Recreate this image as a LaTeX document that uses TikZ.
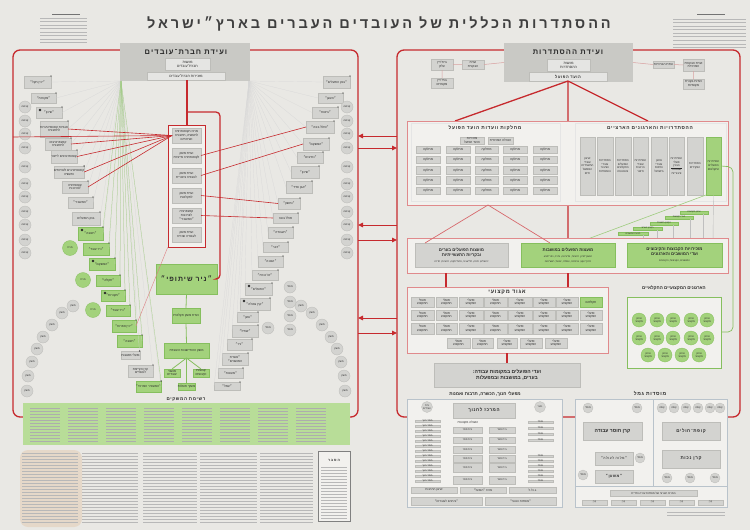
\documentclass[tikz,border=0pt]{standalone}
\usepackage{fontspec}
\setmainfont[Script=Hebrew]{Liberation Sans}
\newfontfamily\spc[Script=Hebrew,LetterSpace=14]{Liberation Sans}
\newfontfamily\spcT[Script=Hebrew,LetterSpace=20]{Liberation Sans}
\TeXXeTstate=1
\usetikzlibrary{arrows.meta}
\newcommand\heb[1]{\beginR #1\endR}
\definecolor{paper}{HTML}{E9E8E4}
\definecolor{panel}{HTML}{F2F1EE}
\definecolor{redc}{HTML}{C62A2E}
\definecolor{pinkl}{HTML}{D9A0A0}
\definecolor{boxg}{HTML}{D3D3D0}
\definecolor{boxl}{HTML}{BDBDB9}
\definecolor{hdrg}{HTML}{C9C9C5}
\definecolor{grn}{HTML}{A3D27C}
\definecolor{grnl}{HTML}{86BF5E}
\definecolor{grnt}{HTML}{B8DD98}
\definecolor{ink}{HTML}{2A2A2A}
\definecolor{blueg}{HTML}{B9C3CB}
\newcommand\bx[7]{%
  \pgfmathsetmacro\bxw{#4-#2}\pgfmathsetmacro\bxh{#5-#3}%
  \node[#6,minimum width=\bxw pt,minimum height=\bxh pt] (#1) at ({(#2+#4)/2},{(#3+#5)/2}) {#7};}
\tikzset{
 gb/.style={draw=boxl,fill=boxg,line width=0.3pt,inner sep=0pt,outer sep=0pt,align=center,text=ink,font=\fontsize{3.2}{3.7}\selectfont},
 gg/.style={gb,fill=grn,draw=grnl},
 hb/.style={fill=hdrg,draw=none,inner sep=0pt,outer sep=0pt},
 sb/.style={gb,fill=boxg!60!white,font=\fontsize{3.6}{4}\selectfont},
 rl/.style={draw=redc,line width=1.3pt},
 rt/.style={draw=redc,line width=0.6pt},
 pl/.style={draw=pinkl,line width=0.5pt},
 fanl/.style={draw=black!16,line width=0.2pt},
 fang/.style={draw=grnl!80,line width=0.25pt},
 gc/.style={circle,draw=boxl,fill=boxg,line width=0.3pt,inner sep=0pt,minimum size=12pt,align=center,font=\fontsize{2.6}{3}\selectfont,text=ink},
 gcg/.style={gc,fill=grn,draw=grnl},
 pnl/.style={draw=blueg,fill=panel,line width=0.6pt,inner sep=0pt,outer sep=0pt},
 rframe/.style={draw=redc!55!white,line width=0.7pt,fill=panel,inner sep=0pt,outer sep=0pt},
 ttl/.style={font=\fontsize{5}{6}\selectfont\bfseries,text=ink,inner sep=0pt},
 txl/.style={draw=black!28,line width=0.5pt},
 arrl/.style={draw=redc,line width=1pt,-{Triangle[length=5pt,width=4.5pt]}},
}
\begin{document}
\begin{tikzpicture}[x=1pt,y=-1pt]
\fill[paper] (0,0) rectangle (750,530);
\useasboundingbox (0,0) rectangle (750,530);

% ---------- title and corner texts
\node[font=\spcT\fontsize{14.5}{15}\selectfont\bfseries,text=ink!90] (title) at (379,24) {\heb{ההסתדרות הכללית של העובדים העברים בארץ״ישראל}};
\foreach \yy in {18,21.5,25,28.5,32,35.5,39,42.5} \draw[txl] (40,\yy) -- (87,\yy);
\draw[draw=black!55,line width=0.7pt] (52,14) -- (80,14);
\foreach \yy in {19,22.5,26,29.5,33,36.5,40,44,47.5} \draw[txl] (673,\yy) -- (746,\yy);
\draw[draw=black!55,line width=0.7pt] (697,14.5) -- (725,14.5);

% ---------- frames
\node[draw=redc,line width=1.3pt,rounded corners=7pt,minimum width=345pt,minimum height=367pt,inner sep=0pt] (lframe) at (185.5,233.5) {};
\node[draw=redc,line width=1.3pt,rounded corners=7pt,minimum width=343pt,minimum height=367pt,inner sep=0pt] (rframe) at (568.5,233.5) {};
\foreach \ya/\yb [count=\i] in {136/148,225/240,318/333} {
  \coordinate (al\i) at (358,\ya); \coordinate (ar\i) at (397,\ya);
  \coordinate (bl\i) at (358,\yb); \coordinate (br\i) at (397,\yb);
  \draw[arrl] (ar\i) -- (al\i);
  \draw[arrl] (bl\i) -- (br\i);}

% ================= LEFT: Hevrat Ovdim =================
\bx{lhdr}{120}{43}{250}{81}{hb}{}
\node[ttl,font=\spc\fontsize{7.5}{8}\selectfont\bfseries] (lhdrt) at (186,52) {\heb{ועידת חברת־עובדים}};
\bx{lmoetza}{165}{58}{210}{70}{sb}{\heb{מועצת}\\\heb{חברת־עובדים}}
\bx{lmazk}{147}{72}{225}{80}{sb}{\heb{מזכירות חברת־עובדים}}
\coordinate (fanL) at (121,81);
\coordinate (fanR) at (249,81);

% left fan boxes
\foreach \n/\xa/\ya/\xb/\yb/\st/\t in {
 1/24/76/51/88/gb/{\heb{״יכין חקל״}},
 2/31/93/56/103/gb/{\heb{״מקורות״}},
 3/36/107/62/118/gb/{\heb{״שיכון״}},
 4/40/121/68/137/gb/{\heb{אגודות קואופרטיביות}\\\heb{לתחבורה}},
 5/45/138/71/150/gb/{\heb{קואופרטיבים}\\\heb{לתחבורה}},
 6/51/150/77/163/gb/{\heb{קואופרטיבים לייצור}},
 7/55/166/83/178/gb/{\heb{קואופרטיבים לשירותים}\\\heb{ותעשיה}},
 8/62/181/88/193/gb/{\heb{קואופרציה}\\\heb{לצרכנות}},
 9/68/197/93/208/gb/{\heb{״המשביר״}},
 10/72/212/100/225/gb/{\heb{בנק הפועלים}},
 11/78/227/103/240/gg/{\heb{״תנובה״}},
 12/83/243/109/255/gg/{\heb{״ניר עובד״}},
 13/89/258/115/270/gg/{\heb{״המשקם״}},
 14/96/275/120/286/gg/{\heb{״חקלאי״}},
 15/101/290/125/301/gg/{\heb{״מקורות״}},
 16/106/305/130/316/gg/{\heb{״ניר עובד״}},
 17/112/320/136/332/gg/{\heb{״יכין אפרוח״}},
 18/117/335/142/347/gg/{\heb{״תנובה״}},
 19/123/351/138/359/gb/{\heb{פועלי מושבות}},
 20/128/365/153/377/gb/{\heb{קרן הקיימת}\\\heb{לעובדים}},
 21/137/381/160/392/gg/{\heb{״המשביר המרכזי״}}} {
  \bx{lf\n}{\xa}{\ya}{\xb}{\yb}{\st}{\t}
}
% right fan boxes
\foreach \n/\xa/\ya/\xb/\yb/\t in {
 1/323/76/350/88/{\heb{״בנק הפועלים״}},
 2/318/93/343/103/{\heb{״העוגן״}},
 3/312/107/338/118/{\heb{״ביטוח״}},
 4/306/121/334/133/{\heb{״סולל בונה״}},
 5/303/138/329/150/{\heb{״המשקם״}},
 6/297/152/323/163/{\heb{״נתיבים״}},
 7/291/166/319/178/{\heb{״שיכון״}},
 8/286/181/312/193/{\heb{״אבן וסיד״}},
 9/278/198/300/209/{\heb{״נחשון״}},
 10/273/213/298/223/{\heb{סולל בונה}},
 11/268/227/293/238/{\heb{״העבודה״}},
 12/263/242/288/252/{\heb{״דבר״}},
 13/258/256/283/267/{\heb{״הבונה״}},
 14/252/270/278/280/{\heb{״ים־כנרת״}},
 15/245/283/272/295/{\heb{״הפועלים״}},
 16/240/298/270/310/{\heb{״קרן גאולה״}},
 17/237/312/258/322/{\heb{״גאון״}},
 18/232/325/258/337/{\heb{״שתיל״}},
 19/227/339/252/350/{\heb{״ניר״}},
 20/222/353/248/365/{\heb{״אגודת}\\\heb{המושבים״}},
 21/218/368/243/378/{\heb{״מעונות״}},
 22/214/382/240/390/{\heb{״עמל״}}} {
  \bx{rf\n}{\xa}{\ya}{\xb}{\yb}{gb}{\t}
}
% fan lines
\foreach \n in {1,...,21} \draw[fanl] (fanL) -- (lf\n.east);
\foreach \n in {11,...,18,21} \draw[fang] (fanL) -- (lf\n.north east);
\foreach \n in {1,...,22} \draw[fanl] (fanR) -- (rf\n.west);
\foreach \n in {1,...,21} \fill[ink] (lf\n.north east) circle (0.7pt);
\foreach \n in {1,...,22} \fill[ink] (rf\n.north east) circle (0.7pt);
\foreach \n in {3,11,13,15} \fill[ink] ([xshift=4pt,yshift=-3pt]lf\n.north west) circle (1.4pt);
\foreach \n in {15,16} \fill[ink] ([xshift=4pt,yshift=-3pt]rf\n.north west) circle (1.4pt);

% circles
\foreach \yy [count=\i] in {107,121,134,148,167,184,197,212,225,240,253}
  \node[gc] (lc\i) at (25,\yy) {\heb{קבוצה}};
\foreach \yy [count=\i] in {107,121,134,148,167,184,197,212,225,240,253}
  \node[gc] (rc\i) at (347,\yy) {\heb{קבוצה}};
\foreach \xx/\yy [count=\i] in {73/306,62/313,52/325,43/337,37/349,32/362,28/376,27/391}
  \node[gc] (la\i) at (\xx,\yy) {\heb{משק}};
\foreach \xx/\yy [count=\i] in {301/306,312/313,322/325,331/337,337/349,341/362,344/376,345/391}
  \node[gc] (ra\i) at (\xx,\yy) {\heb{משק}};
\node[gcg,minimum size=15pt] (lg1) at (70,248) {\heb{מרכז}};
\node[gcg,minimum size=15pt] (lg2) at (83,280) {\heb{מרכז}};
\node[gcg,minimum size=15pt] (lg3) at (93,310) {\heb{מרכז}};
\foreach \yy [count=\i] in {287,302,316,330}
  \node[gc] (rm\i) at (290,\yy) {\heb{מוסד}};
\node[gc] (rm5) at (268,328) {\heb{מוסד}};

% central column
\coordinate (lsplit) at (187,112);
\draw[rl] (lmazk.south -| 187,0) -- (187,125);
\bx{lcol}{168}{125}{205}{247}{draw=redc,line width=0.6pt,fill=panel,inner sep=0pt}{}
\foreach \n/\ya/\yb/\t in {
 1/128/143/{\heb{מרכז הקואופרציה}\\\heb{לתעשיה, תחבורה}\\\heb{ושירותים}},
 2/148/163/{\heb{ועדת משק}\\\heb{לקואופרציה מייצרת}},
 3/168/183/{\heb{ועדת משק}\\\heb{לעבודה ציבורית}},
 4/188/203/{\heb{ועדת משק}\\\heb{לחקלאות}},
 5/208/223/{\heb{קואופרציה}\\\heb{לצרכנות}\\\heb{״המשביר״}},
 6/227/242/{\heb{ועדת משק}\\\heb{לעבודה שכירה}}} {
  \bx{cb\n}{172}{\ya}{201}{\yb}{gb}{\t}
}
\bx{nir}{156}{264}{217}{294}{gg,font=\spc\fontsize{7}{8}\selectfont\bfseries}{\heb{״ניר שיתופי״}}
\draw[rl,rounded corners=4pt] (lsplit) -- (220,112) -- (220,279) -- (nir.east |- 0,279);
\draw[rt] (cb1.west) -- (13,137);
\foreach \n in {4,5,6,7,8} \draw[rt] (cb1.west) -- (lf\n.east);
\draw[rt] (cb2.east) -- (rf4.west);
\draw[rt] (cb3.east) -- (rf5.west);
\draw[rt] (cb4.east) -- (rf9.west);
\draw[rt] (cb5.east) -- (rf10.west);
\draw[draw=redc!60,line width=0.4pt] (lcol.south west) -- (lf17.east);

\bx{n2}{172}{308}{200}{323}{gg}{\heb{ועדת משק חקלאית}}
\bx{n3}{164}{343}{209}{358}{gg}{\heb{משק ההתיישבות העובדת}}
\bx{n4}{164}{369}{180}{377}{gg}{\heb{מושבי}\\\heb{עובדים}}
\bx{n5}{193}{369}{209}{377}{gg}{\heb{קבוצות}\\\heb{וקיבוצים}}
\bx{n6}{178}{383}{195}{390}{gg}{\heb{משקי פועלות}}
\draw[grnl,line width=0.8pt] (nir.south) -- (n2.north) (n2.south) -- (n3.north)
  (n3.south) -- (n4.north) (n3.south) -- (n5.north) (n3.south) -- (n6.north);

% bottom table
\node[font=\spc\fontsize{4.5}{5}\selectfont\bfseries,text=ink] (tbltitle) at (186,400) {\heb{רשימת המשקים}};
\bx{tbl}{23}{403}{350}{445}{fill=grnt,draw=none,inner sep=0pt}{}
\foreach \xa in {30,68,106,144,182,220,258,296}
  \foreach \yy in {408,411,...,442} \draw[draw=black!32,line width=0.45pt] (\xa,\yy) -- (\xa+30,\yy);
\fill[brown!45,opacity=0.45,rounded corners=8pt] (20,450) rectangle (82,527);
\foreach \xa/\xb in {22/78,82/138,143/197,200/257,260/313}
  \foreach \yy in {453,456,...,523} \draw[txl,line width=0.45pt] (\xa,\yy) -- (\xb,\yy);
\bx{expl}{318}{451}{350}{521}{draw=black!50,line width=0.5pt,fill=panel,inner sep=0pt}{}
\node[font=\fontsize{3.5}{4}\selectfont\bfseries,text=ink,align=center] (explt) at (334,460) {\heb{ה ס ב ר}};
\foreach \yy in {467,470,...,518} \draw[txl,line width=0.45pt] (321,\yy) -- (347,\yy);

% ================= RIGHT: Histadrut =================
\bx{rhdr}{504}{43}{633}{82}{hb}{}
\node[ttl,font=\spc\fontsize{7.5}{8}\selectfont\bfseries] (rhdrt) at (568,52) {\heb{ועידת ההסתדרות}};
\bx{rmoetza}{547}{59}{590}{71}{sb}{\heb{מועצת}\\\heb{ההסתדרות}}
\bx{rvaad}{529}{72}{607}{81}{sb,font=\spc\fontsize{4}{5}\selectfont\bfseries}{\heb{הועד הפועל}}
\bx{hl1}{462}{60}{484}{69}{gb}{\heb{ועדת}\\\heb{הבקורת}}
\bx{hl2}{431}{59}{453}{70}{gb}{\heb{בית־דין}\\\heb{עליון}}
\bx{hl3}{431}{78}{453}{88}{gb}{\heb{בתי־דין}\\\heb{מקומיים}}
\bx{hr1}{653}{61}{674}{68}{gb}{\heb{ועדת הבחירות}}
\bx{hr2}{683}{59}{704}{71}{gb}{\heb{ועדת הבקורת}\\\heb{המרכזית}}
\bx{hr3}{683}{79}{704}{89}{gb}{\heb{ועדות בקורת}\\\heb{מקומיות}}
\draw[pl] (rhdr.west) -- (hl1.east) (hl1.west) -- (hl2.east) (hl2.south) -- (hl3.north)
  (rhdr.east) -- (hr1.west) (hr1.east) -- (hr2.west) (hr2.south) -- (hr3.north);

\coordinate (m1) at (455,121); \coordinate (m2) at (648,121); \coordinate (rowtop) at (568,238);
\draw[rl] (rvaad.south) -- (m1) (rvaad.south) -- (m2) (rvaad.south) -- (rowtop);
\bx{mframe}{407}{121}{728}{205}{rframe}{}
\bx{mleft}{411}{123}{560}{201}{pnl,draw=black!10}{}
\bx{mright}{575}{123}{726}{201}{pnl,draw=black!10}{}
\node[font=\spc\fontsize{4.8}{5}\selectfont\bfseries,text=ink] (mlt) at (485,128) {\heb{מחלקות וועדות הועד הפועל}};
\node[font=\spc\fontsize{4.8}{5}\selectfont\bfseries,text=ink] (mrt) at (650,128) {\heb{ההסתדרויות והארגונים הארציים}};
\bx{mt1}{460}{137}{484}{144}{gb}{\heb{מזכירות}\\\heb{הועד הפועל}}
\bx{mt2}{488}{137}{513}{144}{gb}{\heb{הנהלה המרכזית}}
\foreach \c/\xa/\xb in {1/533/557,2/503/527,3/475/498,4/446/470,5/416/440}
 \foreach \r/\ya/\yb in {1/146/153,2/156/163,3/166/174,4/176/184,5/187/194}
  \bx{mg\c\r}{\xa}{\ya}{\xb}{\yb}{gb}{\heb{מחלקה}};
\foreach \i/\xa/\xb/\t in {
 1/580/595/{\heb{ארגון}\\\heb{עובדי}\\\heb{המשרדים}\\\heb{הממשל}\\\heb{תיים}},
 2/597/613/{\heb{הסתדרות}\\\heb{עובדי}\\\heb{הציבור}\\\heb{והמוסדות}},
 3/615/631/{\heb{הסתדרות}\\\heb{הפועלים}\\\heb{החקלאים}\\\heb{והנוטעים}},
 4/633/648/{\heb{הסתדרות}\\\heb{עובדי}\\\heb{הרכבת}\\\heb{ודואר}},
 5/651/667/{\heb{ארגון}\\\heb{עובדי}\\\heb{הדפוס}\\\heb{בישראל}},
 6/669/684/{\heb{הסתדרות}\\\heb{פועלי}\\\heb{הבנין}\\\heb{ועבודות}\\\heb{ציבוריות}},
 7/687/703/{\heb{הסתדרות}\\\heb{הפקידים}}} {
  \bx{tb\i}{\xa}{137}{\xb}{195}{gb,font=\fontsize{2.9}{3.6}\selectfont}{\t}
}
\bx{tb8}{706}{137}{721}{195}{gg,font=\fontsize{2.9}{3.6}\selectfont}{\heb{הסתדרות}\\\heb{הפועלים}\\\heb{החקלאים}}
\draw[draw=ink,line width=1pt] (671,168) -- (682,168);

% green tree above row
\bx{gt1}{680}{211}{708}{214}{gg,font=\fontsize{2.2}{2.5}\selectfont}{\heb{ארגון הקבוצות}}
\bx{gt2}{665}{216}{693}{219}{gg,font=\fontsize{2.2}{2.5}\selectfont}{\heb{חבר הקבוצות}}
\bx{gt3}{650}{222}{678}{225}{gg,font=\fontsize{2.2}{2.5}\selectfont}{\heb{הקבוץ המאוחד}}
\bx{gt4}{633}{227}{662}{230}{gg,font=\fontsize{2.2}{2.5}\selectfont}{\heb{הקבוץ הארצי}}
\bx{gt5}{618}{232}{648}{235}{gg,font=\fontsize{2.2}{2.5}\selectfont}{\heb{תנועת המושבים}}
\foreach \xx/\yy in {643/235,657/230,673/225,690/219,703/214} \draw[draw=black!25,line width=0.4pt] (\xx,\yy) -- (\xx,243);
\draw[draw=black!25,line width=0.4pt] (tb8.south) -- (713,243);
\draw[draw=grnl!80,line width=0.6pt] (tb8.south west) -- (577,243);
\draw[draw=grnl,line width=0.7pt,rounded corners=5pt] (tb8.east) -- (733,167) -- (733,332) -- (721,332);

% row of workers' councils
\bx{rowf}{407}{238}{728}{273}{rframe}{}
\coordinate (apex) at (488,205);
\bx{wc1}{415}{243}{508}{267}{gb,font=\fontsize{4.3}{5}\selectfont\bfseries}{\heb{מועצות הפועלים בערים}\\\heb{ובקריות התעשייתיות}\\[1pt]{\fontsize{2.5}{3}\selectfont\mdseries\heb{ירושלים, חיפה, תל־אביב, פתח־תקוה, רחובות, חדרה}}}
\bx{wc2}{521}{243}{615}{267}{gg,font=\fontsize{4.3}{5}\selectfont\bfseries}{\heb{מועצות הפועלים במושבות}\\[1pt]{\fontsize{2.5}{3}\selectfont\mdseries\heb{ראשון־לציון, רחובות, נס־ציונה, גדרה, כפר־סבא}}\\{\fontsize{2.5}{3}\selectfont\mdseries\heb{זכרון־יעקב, בנימינה, עפולה, יבנאל, ראש־פנה}}}
\bx{wc3}{627}{243}{722}{267}{gg,font=\fontsize{4.3}{5}\selectfont\bfseries}{\heb{מזכירויות הקבוצות והקיבוצים}\\\heb{ועדי המושבים והארגונים}\\[1pt]{\fontsize{2.5}{3}\selectfont\mdseries\heb{המושבים, הקבוצות, הקיבוצים}}}
\draw[draw=redc!70!white,line width=0.7pt] (apex) -- (425,243) (apex) -- (550,243);
\coordinate (r1a) at (446,273); \coordinate (r1b) at (446,287);
\coordinate (r2a) at (568,273); \coordinate (r2b) at (568,287);
\draw[rl] (r1a) -- (r1b) (r2a) -- (r2b);

% trade unions
\bx{agud}{407}{287}{608}{353}{rframe}{}
\node[font=\spc\fontsize{5.5}{6}\selectfont\bfseries,text=ink] (agudt) at (507,292) {\heb{אגוד מקצועי}};
\foreach \c/\xa/\xb in {1/580/602,2/556/578,3/533/555,4/508/532,5/484/507,6/459/483,7/436/457,8/411/434}
 \foreach \r/\ya/\yb in {1/297/307,2/310/320,3/323/334}
  \bx{ag\c\r}{\xa}{\ya}{\xb}{\yb}{gb}{\heb{פועלי}\\\heb{המקצוע}};
\bx{ag11g}{580}{297}{602}{307}{gg}{\heb{חקלאים}}
\foreach \c/\xa/\xb in {1/545/567,2/520/542,3/497/517,4/472/493,5/447/470}
  \bx{ag\c4}{\xa}{338}{\xb}{348}{gb}{\heb{פועלי}\\\heb{המקצוע}};
\coordinate (agb) at (507,353); \coordinate (vtop) at (507,363);
\draw[rl] (agb) -- (vtop);
\bx{vaadim}{434}{363}{580}{387}{gb,font=\fontsize{5}{6}\selectfont\bfseries}{\heb{ועדי הפועלים במקומות עבודה:}\\\heb{בערים, במושבות ובמפעלות}}

% agricultural unions
\node[font=\fontsize{4.5}{5}\selectfont\bfseries,text=ink] (agrt) at (674,288) {\heb{הארגונים המקצועיים החקלאיים}};
\bx{agrf}{627}{297}{721}{368}{draw=grnl,line width=0.8pt,fill=panel,inner sep=0pt}{}
\foreach \xx [count=\i] in {639,657,673,691,707} {
  \node[gcg,minimum size=14pt] (ca\i) at (\xx,320) {\heb{ארגון}\\\heb{מקצועי}};
  \node[gcg,minimum size=14pt] (cb\i) at (\xx,338) {\heb{ארגון}\\\heb{מקצועי}};}
\foreach \xx [count=\i] in {648,665,682,699}
  \node[gcg,minimum size=14pt] (cc\i) at (\xx,355) {\heb{ארגון}\\\heb{מקצועי}};

% bottom panels
\node[font=\fontsize{4.5}{5}\selectfont\bfseries,text=ink] (edt) at (485,394) {\heb{מפעלי חנוך, הכשרה, תרבות ואמנות}};
\node[font=\spc\fontsize{5}{5}\selectfont\bfseries,text=ink] (gmt) at (650,394) {\heb{מוסדות גמל}};
\bx{edu}{407}{399}{562}{507}{pnl}{}
\bx{gml}{575}{399}{727}{507}{pnl}{}
% education panel
\node[gc,minimum size=11pt] (ec1) at (427,407) {\heb{בית}\\\heb{עובדים}};
\node[gc,minimum size=11pt] (ec2) at (540,407) {\heb{נוער}};
\foreach \yy [count=\i] in {421,426,431,436,441,446,451,456,461,466,471,476,481}
  \bx{el\i}{415}{\yy-1.8}{440}{\yy+1.8}{gb,font=\fontsize{2.4}{2.6}\selectfont}{\heb{מוסד חנוך}};
\bx{emerkaz}{453}{403}{515}{418}{gb,font=\spc\fontsize{4.5}{5}\selectfont\bfseries}{\heb{המרכז לחנוך}}
\node[font=\fontsize{3}{3.5}\selectfont,text=ink] (eprof) at (468,423) {\heb{השכלה מקצועית}};
\foreach \r/\ya/\yb in {1/427/433,2/437/443,3/446/453,4/455/462,5/463/472} {
  \bx{ea\r}{489}{\ya}{515}{\yb}{gb,font=\fontsize{2.6}{3}\selectfont}{\heb{בית ספר}}
  \bx{eb\r}{453}{\ya}{482}{\yb}{gb,font=\fontsize{2.6}{3}\selectfont}{\heb{בית ספר}}}
\bx{ec3}{489}{476}{515}{484}{gb,font=\fontsize{2.6}{3}\selectfont}{\heb{בית ספר}}
\bx{ec4}{453}{476}{482}{484}{gb,font=\fontsize{2.6}{3}\selectfont}{\heb{בית ספר}}
\foreach \yy [count=\i] in {422,428,434,440,456,461,466,471,476,481}
  \bx{er\i}{528}{\yy-1.8}{553}{\yy+1.8}{gb,font=\fontsize{2.4}{2.6}\selectfont}{\heb{מוסד}};
\bx{ebt1}{509}{487}{556}{493}{gb,font=\fontsize{3}{3.5}\selectfont}{\heb{ג.ו.ל.ל}}
\bx{ebt2}{460}{487}{506}{493}{gb,font=\fontsize{3}{3.5}\selectfont}{\heb{מרכז ״הפועל״}}
\bx{ebt3}{411}{487}{457}{493}{gb,font=\fontsize{3}{3.5}\selectfont}{\heb{ארגון התרבות}}
\bx{ebt4}{485}{497}{556}{505}{gb,font=\fontsize{3}{3.5}\selectfont}{\heb{״מוסדות הנוער״}}
\bx{ebt5}{411}{497}{482}{505}{gb,font=\fontsize{3}{3.5}\selectfont}{\heb{״ביתנים לעובדים״}}
% gemel panel
\draw[draw=blueg,line width=0.5pt] (653,400) -- (653,486);
\node[gc,minimum size=10pt] (gc1) at (588,408) {\heb{מוסד}};
\node[gc,minimum size=10pt] (gc2) at (637,408) {\heb{מוסד}};
\foreach \xx [count=\i] in {662,674,686,698,710,720}
  \node[gc,minimum size=10pt] (gt\i) at (\xx,408) {\heb{קופה}};
\bx{kheser}{583}{422}{642}{440}{gb,font=\fontsize{5}{6}\selectfont\bfseries}{\heb{קרן חוסר עבודה}}
\bx{kmilve}{595}{452}{633}{465}{gb,font=\spc\fontsize{3.5}{4}\selectfont}{\heb{״מלוה לעולה״}}
\node[gc,minimum size=10pt] (gc3) at (640,458) {\heb{מוסד}};
\bx{mishan}{595}{470}{633}{483}{gb,font=\spc\fontsize{3.8}{4}\selectfont\bfseries}{\heb{״משען״}}
\node[gc,minimum size=10pt] (gc4) at (583,475) {\heb{מוסד}};
\bx{kupat}{662}{422}{720}{440}{gb,font=\spc\fontsize{4.5}{5}\selectfont\bfseries}{\heb{קופת־חולים}}
\bx{nekhut}{662}{450}{720}{468}{gb,font=\spc\fontsize{4.5}{5}\selectfont\bfseries}{\heb{קרן נכות}}
\foreach \xx [count=\i] in {667,690,715}
  \node[gc,minimum size=10pt] (gb\i) at (\xx,478) {\heb{מוסד}};
\draw[draw=blueg,line width=0.5pt] (575,486) -- (727,486);
\bx{gstrip}{610}{490}{697}{496}{gb,font=\fontsize{2.8}{3}\selectfont}{\heb{המרכז הארצי של מוסדות עזרה הדדית}}
\foreach \xa [count=\i] in {582,611,640,669,698}
  \bx{gs\i}{\xa}{500}{\xa+25}{505}{gb,font=\fontsize{2.4}{2.6}\selectfont}{\heb{קרן}};
\foreach \yy in {512,515} \draw[txl] (667,\yy) -- (725,\yy);
\end{tikzpicture}
\end{document}
